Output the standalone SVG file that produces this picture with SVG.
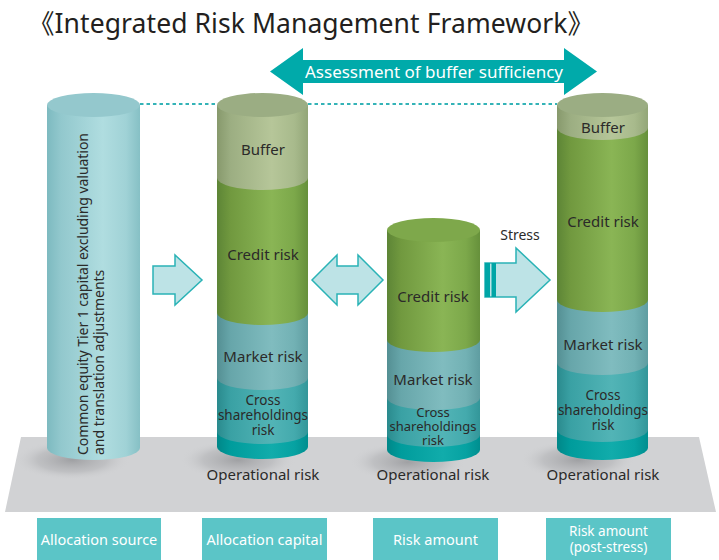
<svg xmlns="http://www.w3.org/2000/svg" width="719" height="560" viewBox="0 0 719 560">
<defs>
<style>
text{font-family:"Noto Sans","Noto Sans CJK JP",sans-serif;fill:#2b2a29}
.lbl{font-size:15px;text-anchor:middle}
.sm{font-size:13.5px;text-anchor:middle}
.xs{font-size:13px;text-anchor:middle}
.box{fill:#5bc5c7}
.boxt{font-size:14.5px;fill:#fff;text-anchor:middle}
.boxs{font-size:13.5px;fill:#fff;text-anchor:middle}
.arr{fill:#bde3e6;stroke:#2ab3b6;stroke-width:1.5;stroke-linejoin:miter}
</style>
<linearGradient id="gSrc" x1="0" x2="1" y1="0" y2="0">
<stop offset="0" stop-color="#7dbac0"/><stop offset="0.15" stop-color="#92c8cd"/><stop offset="0.6" stop-color="#b0dde0"/><stop offset="0.85" stop-color="#a0d2d6"/><stop offset="1" stop-color="#86c0c5"/>
</linearGradient>
<linearGradient id="gBuf" x1="0" x2="1" y1="0" y2="0">
<stop offset="0" stop-color="#87996c"/><stop offset="0.15" stop-color="#9cae82"/><stop offset="0.6" stop-color="#b6c699"/><stop offset="0.85" stop-color="#a8ba8c"/><stop offset="1" stop-color="#93a678"/>
</linearGradient>
<linearGradient id="gCre" x1="0" x2="1" y1="0" y2="0">
<stop offset="0" stop-color="#5d8536"/><stop offset="0.15" stop-color="#71993f"/><stop offset="0.6" stop-color="#8ab555"/><stop offset="0.85" stop-color="#7ca84a"/><stop offset="1" stop-color="#66903b"/>
</linearGradient>
<linearGradient id="gMkt" x1="0" x2="1" y1="0" y2="0">
<stop offset="0" stop-color="#548f93"/><stop offset="0.15" stop-color="#67a6aa"/><stop offset="0.6" stop-color="#80bcbf"/><stop offset="0.85" stop-color="#72b1b4"/><stop offset="1" stop-color="#5f9da1"/>
</linearGradient>
<linearGradient id="gCrs" x1="0" x2="1" y1="0" y2="0">
<stop offset="0" stop-color="#2a8a8d"/><stop offset="0.15" stop-color="#3aa1a4"/><stop offset="0.6" stop-color="#52b4b6"/><stop offset="0.85" stop-color="#44aaad"/><stop offset="1" stop-color="#339699"/>
</linearGradient>
<linearGradient id="gOp" x1="0" x2="1" y1="0" y2="0">
<stop offset="0" stop-color="#008788"/><stop offset="0.15" stop-color="#009c9c"/><stop offset="0.6" stop-color="#11acab"/><stop offset="0.85" stop-color="#06a2a2"/><stop offset="1" stop-color="#008e8f"/>
</linearGradient>
<radialGradient id="gSh" cx="0.5" cy="0.5" r="0.5">
<stop offset="0" stop-color="#8f9093" stop-opacity="0.75"/><stop offset="0.6" stop-color="#a9aaad" stop-opacity="0.45"/><stop offset="1" stop-color="#d1d2d4" stop-opacity="0"/>
</radialGradient>
</defs>

<rect width="719" height="560" fill="#ffffff"/>

<g id="title">
<text x="28" y="33" font-size="26.5" textLength="566" lengthAdjust="spacing" style="fill:#231f20">《Integrated Risk Management Framework》</text>
</g>

<g id="platform">
<polygon points="21,437 699,437 716,512 5,512" fill="#d1d2d4"/>
<ellipse cx="72" cy="460" rx="58" ry="20" fill="url(#gSh)"/>
<ellipse cx="238" cy="460" rx="58" ry="20" fill="url(#gSh)"/>
<ellipse cx="408" cy="462" rx="58" ry="20" fill="url(#gSh)"/>
<ellipse cx="578" cy="460" rx="58" ry="20" fill="url(#gSh)"/>
</g>

<g id="connectors">
<line x1="140" y1="104" x2="217" y2="104" stroke="#34b3b7" stroke-width="2" stroke-dasharray="3.5,3"/>
<line x1="308" y1="104" x2="557" y2="104" stroke="#34b3b7" stroke-width="2" stroke-dasharray="3.5,3"/>
<g id="assessment-arrow">
<polygon points="270,71.5 303,48 303,60 564,60 564,48 597,71.5 564,95 564,83 303,83 303,95" fill="#00aaaa"/>
<text x="434" y="78" font-size="17" text-anchor="middle" style="fill:#ffffff">Assessment of buffer sufficiency</text>
</g>
<polygon class="arr" points="153,266 175,266 175,255 202,280 175,305 175,294 153,294"/>
<polygon class="arr" points="312,280 337,255 337,266 358,266 358,255 383,280 358,305 358,294 337,294 337,305"/>
<g id="stress-arrow">
<polygon class="arr" points="485,263 516,263 516,248 550,280 516,312 516,297 485,297"/>
<rect x="485" y="263" width="5" height="34" fill="#00a5a6"/>
<rect x="491.5" y="263" width="4.5" height="34" fill="#00a5a6"/>
<text x="520" y="240" font-size="14" text-anchor="middle">Stress</text>
</g>
</g>

<g id="col-source">
<path d="M47,105 V448 A46.5,12 0 0 0 140,448 V105 Z" fill="url(#gSrc)"/>
<ellipse cx="93.5" cy="105" rx="46.5" ry="12" fill="#94c8cd"/>
<text transform="translate(88,455) rotate(-90)" font-size="14"><tspan x="0" y="0" textLength="322" lengthAdjust="spacing">Common equity Tier 1 capital excluding valuation</tspan><tspan x="0" y="16">and translation adjustments</tspan></text>
</g>

<g id="col-allocation">
<path d="M217,432 V447 A45.5,12 0 0 0 308,447 V432 Z" fill="url(#gOp)"/>
<path d="M217,378 V432 A45.5,12 0 0 0 308,432 V378 Z" fill="url(#gCrs)"/>
<path d="M217,313 V378 A45.5,12 0 0 0 308,378 V313 Z" fill="url(#gMkt)"/>
<path d="M217,178 V313 A45.5,12 0 0 0 308,313 V178 Z" fill="url(#gCre)"/>
<path d="M217,105 V178 A45.5,12 0 0 0 308,178 V105 Z" fill="url(#gBuf)"/>
<ellipse cx="262.5" cy="105" rx="45.5" ry="12" fill="#9bad83"/>
<text class="lbl" x="263" y="155">Buffer</text>
<text class="lbl" x="263" y="260">Credit risk</text>
<text class="lbl" x="263" y="362">Market risk</text>
<text class="sm"><tspan x="263" y="405">Cross</tspan><tspan x="263" y="420">shareholdings</tspan><tspan x="263" y="435">risk</tspan></text>
<text class="lbl" x="263" y="480">Operational risk</text>
</g>

<g id="col-risk">
<path d="M387,435 V450 A46.5,12 0 0 0 480,450 V435 Z" fill="url(#gOp)"/>
<path d="M387,398 V435 A46.5,12 0 0 0 480,435 V398 Z" fill="url(#gCrs)"/>
<path d="M387,340 V398 A46.5,12 0 0 0 480,398 V340 Z" fill="url(#gMkt)"/>
<path d="M387,230 V340 A46.5,12 0 0 0 480,340 V230 Z" fill="url(#gCre)"/>
<ellipse cx="433.5" cy="230" rx="46.5" ry="12" fill="#7ea84b"/>
<text class="lbl" x="433" y="302">Credit risk</text>
<text class="lbl" x="433" y="385">Market risk</text>
<text class="xs"><tspan x="433" y="417">Cross</tspan><tspan x="433" y="431">shareholdings</tspan><tspan x="433" y="445">risk</tspan></text>
<text class="lbl" x="433" y="480">Operational risk</text>
</g>

<g id="col-stress">
<path d="M557,430 V448 A45.5,12 0 0 0 648,448 V430 Z" fill="url(#gOp)"/>
<path d="M557,363 V430 A45.5,12 0 0 0 648,430 V363 Z" fill="url(#gCrs)"/>
<path d="M557,300 V363 A45.5,12 0 0 0 648,363 V300 Z" fill="url(#gMkt)"/>
<path d="M557,128 V300 A45.5,12 0 0 0 648,300 V128 Z" fill="url(#gCre)"/>
<path d="M557,105 V128 A45.5,12 0 0 0 648,128 V105 Z" fill="url(#gBuf)"/>
<ellipse cx="602.5" cy="105" rx="45.5" ry="12" fill="#9bad83"/>
<text class="lbl" x="603" y="133">Buffer</text>
<text class="lbl" x="603" y="227">Credit risk</text>
<text class="lbl" x="603" y="350">Market risk</text>
<text class="sm"><tspan x="603" y="400">Cross</tspan><tspan x="603" y="415">shareholdings</tspan><tspan x="603" y="430">risk</tspan></text>
<text class="lbl" x="603" y="480">Operational risk</text>
</g>

<g id="box-source"><rect class="box" x="37" y="518" width="124" height="42"/><text class="boxt" x="99" y="545">Allocation source</text></g>
<g id="box-capital"><rect class="box" x="202" y="518" width="125" height="42"/><text class="boxt" x="264.5" y="545">Allocation capital</text></g>
<g id="box-risk"><rect class="box" x="373" y="518" width="125" height="42"/><text class="boxt" x="435.5" y="545">Risk amount</text></g>
<g id="box-stress"><rect class="box" x="546" y="518" width="125" height="42"/><text class="boxs"><tspan x="608.5" y="536">Risk amount</tspan><tspan x="608.5" y="552">(post-stress)</tspan></text></g>
</svg>
